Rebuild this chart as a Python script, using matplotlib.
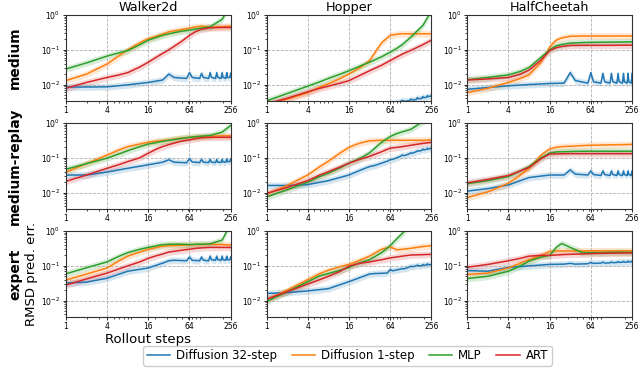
import matplotlib
matplotlib.use("Agg")
import matplotlib.pyplot as plt
from matplotlib.ticker import FixedLocator, FixedFormatter
import numpy as np

steps = [1, 2, 4, 6, 8, 12, 16, 20, 24, 32, 48, 64, 80, 96, 128, 192, 256]
# finer grid for the 32-step diffusion curves (spikes every 32 steps)
steps_b = [1, 2, 4, 8, 16, 26, 32, 38, 58, 64, 70, 90, 96, 102, 122, 128, 134,
           154, 160, 166, 186, 192, 198, 218, 224, 230, 250, 256]

envs = ["Walker2d", "Hopper", "HalfCheetah"]
datasets = ["medium", "medium-replay", "expert"]
methods = ["Diffusion 32-step", "Diffusion 1-step", "MLP", "ART"]
colors = ["#1f77b4", "#ff7f0e", "#2ca02c", "#d62728"]

# ---- medium ----
walker_med_d32 = [0.0085, 0.0085, 0.0086, 0.0098, 0.0115, 0.0135, 0.02, 0.016, 0.015, 0.022, 0.016, 0.015, 0.021, 0.016,
                  0.015, 0.022, 0.016, 0.015, 0.022, 0.016, 0.015, 0.022, 0.016, 0.015, 0.022, 0.016, 0.016, 0.021]
walker_med_d1 = [0.013, 0.02, 0.039, 0.068, 0.1, 0.16, 0.21, 0.24, 0.27, 0.33, 0.38, 0.42, 0.46, 0.48, 0.45, 0.46, 0.48]
walker_med_mlp = [0.028, 0.042, 0.066, 0.082, 0.095, 0.14, 0.19, 0.22, 0.25, 0.29, 0.34, 0.37, 0.4, 0.42, 0.46, 0.75, 2.0]
walker_med_art = [0.0078, 0.0115, 0.016, 0.019, 0.022, 0.032, 0.044, 0.058, 0.072, 0.1, 0.17, 0.26, 0.34, 0.39, 0.43, 0.44, 0.44]

hopper_med_d32 = [0.0012, 0.0012, 0.0013, 0.0014, 0.0017, 0.002, 0.0024, 0.0022, 0.0026, 0.003, 0.0029, 0.0032, 0.0035, 0.0033,
                  0.0034, 0.0038, 0.0036, 0.0037, 0.0042, 0.0039, 0.004, 0.0045, 0.0042, 0.0043, 0.0048, 0.0045, 0.0046, 0.005]
hopper_med_d1 = [0.0026, 0.0038, 0.0058, 0.0085, 0.0105, 0.015, 0.02, 0.026, 0.032, 0.049, 0.16, 0.26, 0.28, 0.29, 0.29, 0.29, 0.29]
hopper_med_mlp = [0.0034, 0.0055, 0.009, 0.012, 0.015, 0.02, 0.025, 0.03, 0.035, 0.044, 0.063, 0.085, 0.11, 0.14, 0.23, 0.5, 1.3]
hopper_med_art = [0.0028, 0.004, 0.0062, 0.0078, 0.009, 0.011, 0.013, 0.016, 0.019, 0.025, 0.036, 0.049, 0.062, 0.075, 0.096, 0.14, 0.19]

cheetah_med_d32 = [0.0073, 0.0082, 0.0092, 0.01, 0.0107, 0.011, 0.022, 0.013, 0.011, 0.022, 0.012, 0.011, 0.021, 0.012,
                   0.011, 0.021, 0.012, 0.011, 0.021, 0.012, 0.011, 0.021, 0.012, 0.011, 0.021, 0.012, 0.011, 0.021]
cheetah_med_d1 = [0.0059, 0.0078, 0.0115, 0.015, 0.019, 0.044, 0.12, 0.19, 0.22, 0.245, 0.25, 0.25, 0.25, 0.25, 0.25, 0.25, 0.25]
cheetah_med_mlp = [0.0138, 0.016, 0.019, 0.024, 0.031, 0.061, 0.1, 0.13, 0.143, 0.156, 0.162, 0.164, 0.165, 0.166, 0.167, 0.168, 0.17]
cheetah_med_art = [0.0135, 0.0145, 0.016, 0.02, 0.026, 0.051, 0.095, 0.115, 0.125, 0.134, 0.135, 0.135, 0.135, 0.135, 0.135, 0.136, 0.136]

# ---- medium-replay ----
walker_mr_d32 = [0.032, 0.032, 0.039, 0.05, 0.063, 0.075, 0.088, 0.075, 0.072, 0.094, 0.076, 0.073, 0.09, 0.075,
                 0.073, 0.09, 0.075, 0.073, 0.09, 0.075, 0.074, 0.09, 0.076, 0.075, 0.092, 0.078, 0.078, 0.094]
walker_mr_d1 = [0.039, 0.068, 0.12, 0.17, 0.21, 0.25, 0.28, 0.3, 0.31, 0.33, 0.37, 0.39, 0.4, 0.41, 0.42, 0.43, 0.43]
walker_mr_mlp = [0.047, 0.068, 0.098, 0.13, 0.16, 0.21, 0.25, 0.27, 0.29, 0.32, 0.36, 0.39, 0.41, 0.42, 0.44, 0.55, 0.85]
walker_mr_art = [0.021, 0.032, 0.05, 0.064, 0.078, 0.1, 0.136, 0.17, 0.2, 0.24, 0.3, 0.33, 0.36, 0.38, 0.39, 0.39, 0.39]

hopper_mr_d32 = [0.016, 0.016, 0.017, 0.022, 0.032, 0.048, 0.056, 0.06, 0.08, 0.088, 0.09, 0.11, 0.12, 0.115,
                 0.13, 0.14, 0.135, 0.15, 0.16, 0.155, 0.165, 0.18, 0.17, 0.175, 0.19, 0.18, 0.185, 0.2]
hopper_mr_d1 = [0.009, 0.016, 0.032, 0.056, 0.08, 0.14, 0.2, 0.24, 0.27, 0.31, 0.32, 0.32, 0.32, 0.32, 0.32, 0.32, 0.33]
hopper_mr_mlp = [0.0075, 0.012, 0.02, 0.029, 0.036, 0.052, 0.07, 0.085, 0.1, 0.14, 0.28, 0.41, 0.5, 0.56, 0.66, 1.1, 1.6]
hopper_mr_art = [0.0095, 0.014, 0.022, 0.032, 0.04, 0.055, 0.07, 0.082, 0.093, 0.11, 0.15, 0.19, 0.2, 0.21, 0.23, 0.26, 0.28]

cheetah_mr_d32 = [0.011, 0.013, 0.0166, 0.027, 0.032, 0.032, 0.045, 0.034, 0.032, 0.042, 0.033, 0.031, 0.042, 0.033,
                  0.031, 0.042, 0.033, 0.031, 0.042, 0.033, 0.031, 0.042, 0.033, 0.031, 0.042, 0.033, 0.031, 0.042]
cheetah_mr_d1 = [0.0072, 0.0105, 0.0186, 0.032, 0.05, 0.12, 0.18, 0.2, 0.21, 0.215, 0.225, 0.23, 0.232, 0.235, 0.237, 0.24, 0.245]
cheetah_mr_mlp = [0.018, 0.022, 0.029, 0.042, 0.056, 0.1, 0.137, 0.148, 0.15, 0.152, 0.155, 0.155, 0.155, 0.155, 0.155, 0.155, 0.155]
cheetah_mr_art = [0.019, 0.024, 0.031, 0.042, 0.053, 0.094, 0.128, 0.13, 0.131, 0.132, 0.132, 0.132, 0.132, 0.132, 0.132, 0.132, 0.132]

# ---- expert ----
walker_ex_d32 = [0.032, 0.034, 0.044, 0.07, 0.087, 0.12, 0.14, 0.145, 0.14, 0.18, 0.145, 0.14, 0.18, 0.145,
                 0.14, 0.19, 0.15, 0.145, 0.19, 0.15, 0.145, 0.19, 0.15, 0.145, 0.19, 0.15, 0.15, 0.18]
walker_ex_d1 = [0.039, 0.058, 0.087, 0.14, 0.19, 0.25, 0.3, 0.33, 0.36, 0.38, 0.39, 0.4, 0.41, 0.41, 0.42, 0.41, 0.4]
walker_ex_mlp = [0.059, 0.088, 0.13, 0.19, 0.24, 0.3, 0.34, 0.37, 0.4, 0.42, 0.42, 0.41, 0.42, 0.42, 0.43, 0.55, 1.6]
walker_ex_art = [0.028, 0.042, 0.062, 0.082, 0.1, 0.13, 0.165, 0.19, 0.21, 0.25, 0.28, 0.3, 0.32, 0.33, 0.34, 0.34, 0.34]

hopper_ex_d32 = [0.016, 0.017, 0.019, 0.022, 0.035, 0.05, 0.058, 0.06, 0.062, 0.078, 0.072, 0.08, 0.083, 0.082,
                 0.092, 0.098, 0.094, 0.1, 0.105, 0.1, 0.1, 0.11, 0.105, 0.105, 0.115, 0.108, 0.108, 0.11]
hopper_ex_d1 = [0.0105, 0.02, 0.04, 0.06, 0.075, 0.095, 0.11, 0.13, 0.15, 0.19, 0.3, 0.35, 0.29, 0.3, 0.32, 0.36, 0.38]
hopper_ex_mlp = [0.0095, 0.018, 0.035, 0.052, 0.06, 0.075, 0.09, 0.11, 0.125, 0.15, 0.24, 0.38, 0.6, 0.85, 1.6, 3.0, 5.0]
hopper_ex_art = [0.011, 0.018, 0.03, 0.04, 0.05, 0.07, 0.098, 0.11, 0.12, 0.13, 0.15, 0.17, 0.18, 0.19, 0.205, 0.21, 0.215]

cheetah_ex_d32 = [0.073, 0.07, 0.09, 0.1, 0.11, 0.112, 0.118, 0.112, 0.115, 0.125, 0.118, 0.12, 0.128, 0.12,
                  0.122, 0.13, 0.123, 0.125, 0.133, 0.126, 0.127, 0.135, 0.128, 0.128, 0.137, 0.13, 0.13, 0.137]
cheetah_ex_d1 = [0.056, 0.062, 0.087, 0.12, 0.15, 0.2, 0.26, 0.27, 0.27, 0.27, 0.27, 0.27, 0.27, 0.27, 0.27, 0.27, 0.27]
cheetah_ex_mlp = [0.043, 0.05, 0.07, 0.1, 0.137, 0.18, 0.2, 0.34, 0.44, 0.34, 0.24, 0.24, 0.24, 0.24, 0.245, 0.245, 0.245]
cheetah_ex_art = [0.091, 0.11, 0.14, 0.165, 0.19, 0.2, 0.2, 0.205, 0.21, 0.215, 0.22, 0.225, 0.228, 0.23, 0.232, 0.235, 0.235]

panels = [
    [[walker_med_d32, walker_med_d1, walker_med_mlp, walker_med_art],
     [hopper_med_d32, hopper_med_d1, hopper_med_mlp, hopper_med_art],
     [cheetah_med_d32, cheetah_med_d1, cheetah_med_mlp, cheetah_med_art]],
    [[walker_mr_d32, walker_mr_d1, walker_mr_mlp, walker_mr_art],
     [hopper_mr_d32, hopper_mr_d1, hopper_mr_mlp, hopper_mr_art],
     [cheetah_mr_d32, cheetah_mr_d1, cheetah_mr_mlp, cheetah_mr_art]],
    [[walker_ex_d32, walker_ex_d1, walker_ex_mlp, walker_ex_art],
     [hopper_ex_d32, hopper_ex_d1, hopper_ex_mlp, hopper_ex_art],
     [cheetah_ex_d32, cheetah_ex_d1, cheetah_ex_mlp, cheetah_ex_art]],
]

fig, axes = plt.subplots(3, 3, figsize=(6.4, 3.68), dpi=100)
fig.subplots_adjust(left=0.103, right=0.9875, top=0.959, bottom=0.139,
                    wspace=0.218, hspace=0.26)

for r in range(3):
    for c in range(3):
        ax = axes[r][c]
        for k in range(4):
            xs = steps_b if k == 0 else steps
            ys = np.array(panels[r][c][k])
            ax.fill_between(xs, ys / 1.25, ys * 1.25, color=colors[k],
                            alpha=0.18, lw=0)
            ax.plot(xs, ys, color=colors[k], lw=1.1,
                    label=methods[k] if (r == 0 and c == 0) else None)
        ax.set_xscale("log")
        ax.set_yscale("log")
        ax.set_xlim(1, 256)
        ax.set_ylim(0.0034, 1.0)
        ax.xaxis.set_major_locator(FixedLocator([1, 4, 16, 64, 256]))
        ax.xaxis.set_major_formatter(FixedFormatter(["1", "4", "16", "64", "256"]))
        ax.grid(True, which="major", ls="--", lw=0.6, color="#b0b0b0")
        ax.tick_params(labelsize=5.5, pad=1.5, length=2.5, width=0.6)
        ax.tick_params(which="minor", length=1.5, width=0.5)
        for s in ax.spines.values():
            s.set_linewidth(0.8)
            s.set_color("#333333")
        if r == 0:
            ax.set_title(envs[c], fontsize=9.2, pad=3)
    pos = axes[r][0].get_position()
    fig.text(0.024, (pos.y0 + pos.y1) / 2, datasets[r], rotation=90,
             fontsize=10, fontweight="bold", ha="center", va="center")

axes[2][0].set_ylabel("RMSD pred. err.", fontsize=9.5, labelpad=2)
axes[2][0].set_xlabel("Rollout steps", fontsize=9.5, labelpad=1)

fig.legend(loc="lower center", ncol=4, fontsize=8.5, bbox_to_anchor=(0.543, -0.01),
           handlelength=2.0, columnspacing=1.2, handletextpad=0.5,
           borderpad=0.3, framealpha=1.0, edgecolor="#cccccc")

fig.savefig("out.png", dpi=100)
